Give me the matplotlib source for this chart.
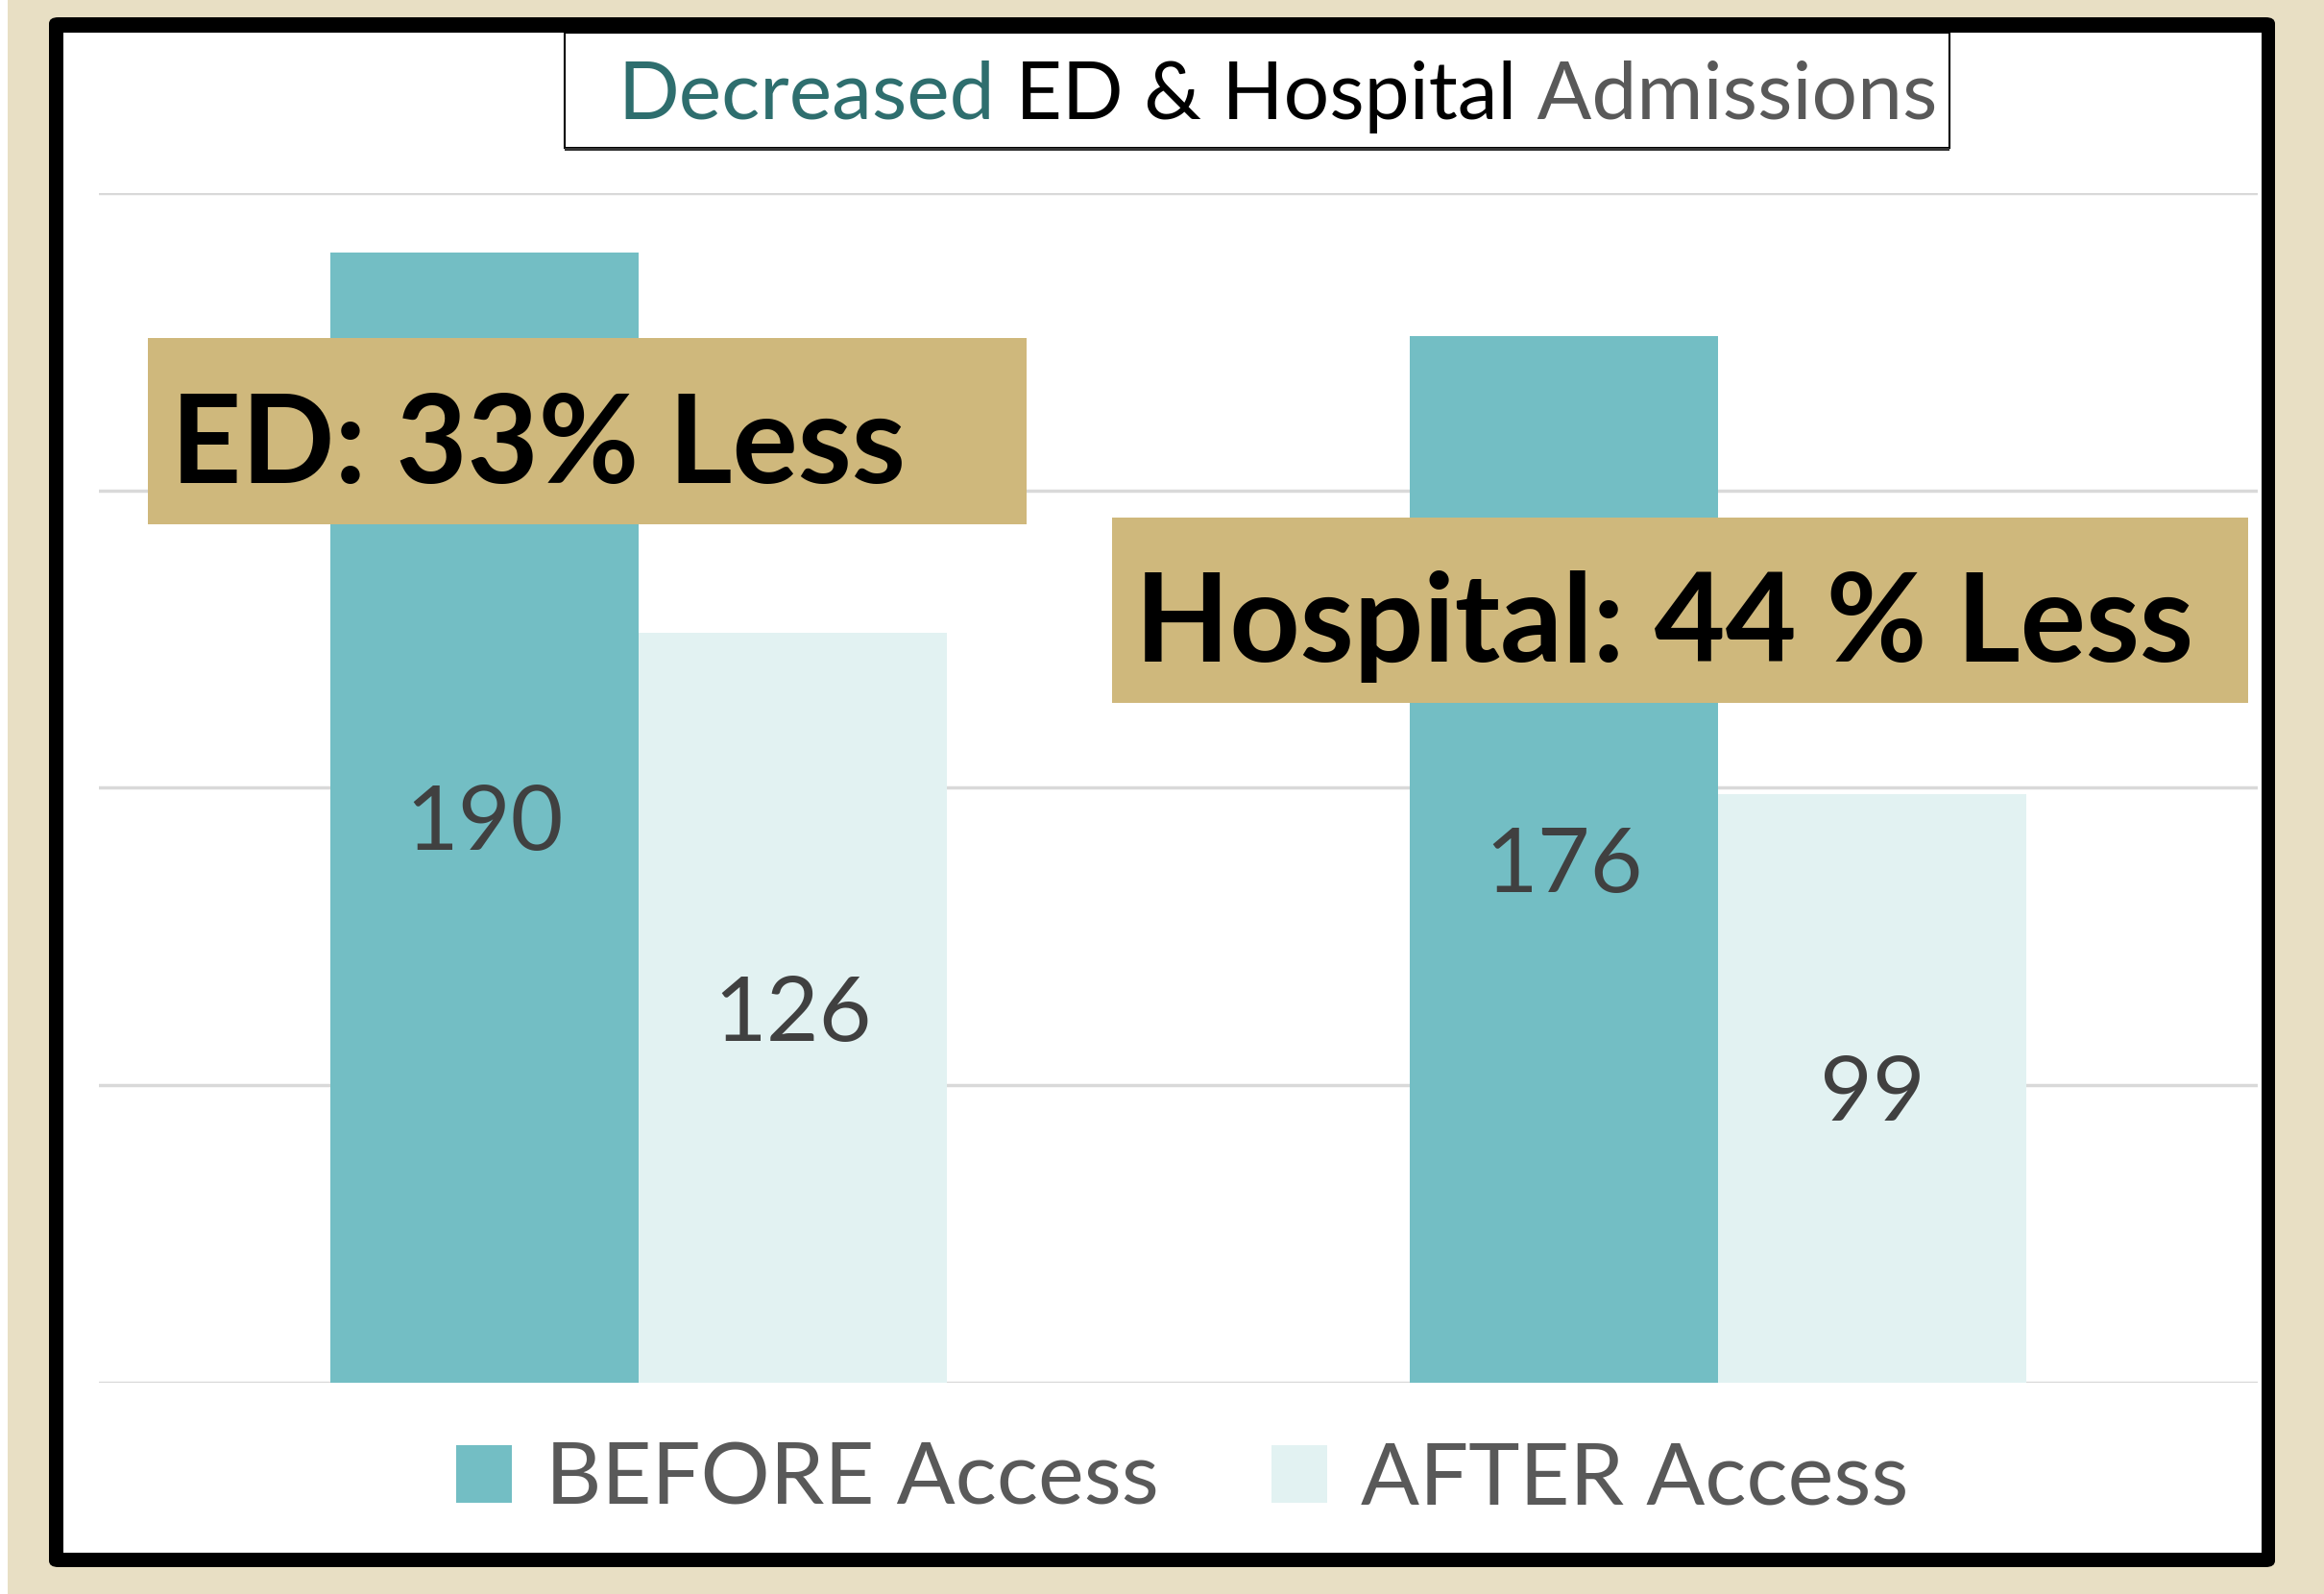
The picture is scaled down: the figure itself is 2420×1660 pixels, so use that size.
import numpy as np
import matplotlib
matplotlib.use("Agg")
import matplotlib.pyplot as plt
from matplotlib.patches import Rectangle, FancyBboxPatch

# data
groups = ["ED", "Hospital"]
series = ["BEFORE Access", "AFTER Access"]
before = [190, 176]
after = [126, 99]
callouts = ["ED: 33% Less", "Hospital: 44 % Less"]

c_before = "#73bec4"
c_after = "#e2f2f2"
c_gold = "#cfb87c"
c_text = "#404040"
c_legend = "#595959"

W, H = 2420, 1660
fig = plt.figure(figsize=(W / 100, H / 100), dpi=100)
fig.patch.set_facecolor("#e8dfc4")

def fx(px):
    return px / W

def fy(py):
    return 1 - py / H

# white strip on far left
fig.add_artist(Rectangle((0, 0), fx(8), 1, transform=fig.transFigure,
                         facecolor="white", edgecolor="none", zorder=0))
# black frame + white panel
fig.add_artist(FancyBboxPatch((fx(51), fy(1632)), fx(2369 - 51), (1632 - 18) / H,
                              boxstyle="round,pad=0,rounding_size=0.004",
                              transform=fig.transFigure, facecolor="black",
                              edgecolor="none", zorder=0))
fig.add_artist(Rectangle((fx(66), fy(1617)), fx(2355 - 66), (1617 - 34) / H,
                         transform=fig.transFigure, facecolor="white",
                         edgecolor="none", zorder=0))

ax = fig.add_axes([fx(103), fy(1440), fx(2351 - 103), (1440 - 201) / H])
ax.set_facecolor("none")

x = np.arange(len(groups))
bw = 2 / 7
b1 = ax.bar(x - bw / 2, before, bw, color=c_before, zorder=2)
b2 = ax.bar(x + bw / 2, after, bw, color=c_after, zorder=2)
for bars in (b1, b2):
    labs = ax.bar_label(bars, label_type="center", fontsize=68, color=c_text,
                        family="Lato", zorder=3)
    for lb in labs:
        lb.set_va("center_baseline")

ax.set_xlim(-0.5, 1.5)
ax.set_ylim(0, 200)
ax.set_yticks([0, 50, 100, 150, 200])
ax.yaxis.grid(True, color="#d9d9d9", linewidth=2.5, zorder=0)
ax.set_axisbelow(True)
ax.tick_params(left=False, bottom=False, labelleft=False, labelbottom=False)
for s in ax.spines.values():
    s.set_visible(False)

# title box with three-coloured title
fig.add_artist(Rectangle((fx(588), fy(154)), fx(2030 - 588), (154 - 34) / H,
                         transform=fig.transFigure, facecolor="white",
                         edgecolor="black", linewidth=1.5, zorder=3))
fig.add_artist(Rectangle((fx(588), fy(157)), fx(2030 - 588), 3 / H,
                         transform=fig.transFigure, facecolor="#333333",
                         edgecolor="none", zorder=3))
t1 = fig.text(fx(643), fy(124), "Decreased", fontsize=60.5, family="Lato",
              color="#2e6e6e", va="baseline", zorder=4)
t2 = fig.text(0, 0, " ED & Hospital", fontsize=60.5, family="Lato", color="black",
              zorder=4)
t3 = fig.text(0, 0, " Admissions", fontsize=60.5, family="Lato", color="#595959",
              zorder=4)
fig.canvas.draw()
r = fig.canvas.get_renderer()
prev = t1
for t in (t2, t3):
    bb = prev.get_window_extent(r)
    t.set_position((bb.x1 / W, fy(124)))
    t.set_va("baseline")
    fig.canvas.draw()
    prev = t

# callout boxes
boxes = [(154, 352, 1069, 546), (1158, 539, 2341, 732)]
for (l, t, rr, b), txt in zip(boxes, callouts):
    fig.add_artist(Rectangle((fx(l), fy(b)), fx(rr - l), (b - t) / H,
                             transform=fig.transFigure, facecolor=c_gold,
                             edgecolor="none", zorder=5))
    fig.text(fx(l + 24), fy((t + b) / 2 + 6), txt, fontsize=92, family="Lato",
             weight="bold", color="black", va="center_baseline", zorder=6)

# legend
leg = [(475, series[0], c_before), (1324, series[1], c_after)]
for lx, lab, col in leg:
    fig.add_artist(Rectangle((fx(lx), fy(1565)), fx(58), 60 / H,
                             transform=fig.transFigure, facecolor=col,
                             edgecolor="none", zorder=5))
    fig.text(fx(lx + 93), fy(1566), lab, fontsize=65, family="Lato",
             color=c_legend, va="baseline", zorder=6)

fig.savefig("out.png", dpi=100, facecolor=fig.get_facecolor())
